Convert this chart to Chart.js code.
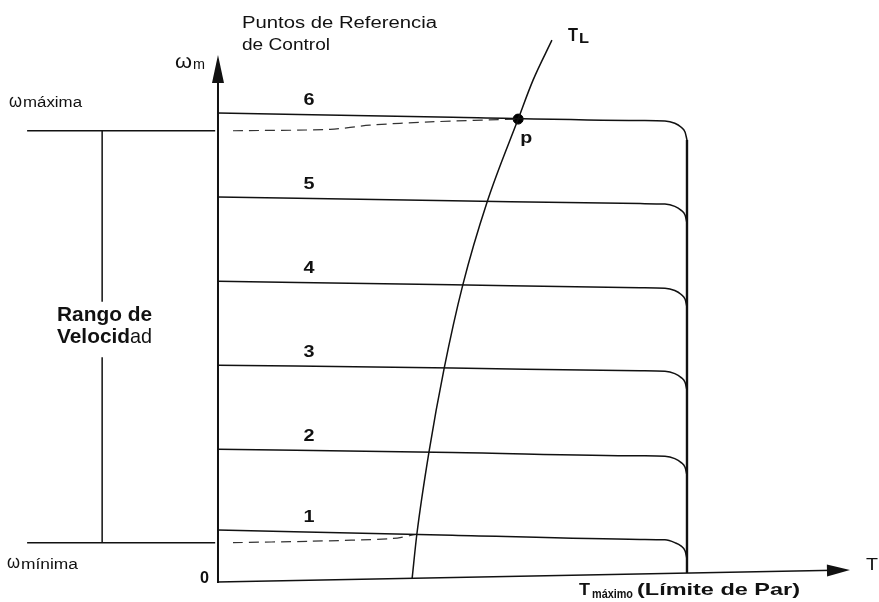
<!DOCTYPE html>
<html lang="es">
<head>
<meta charset="utf-8">
<title>Puntos de Referencia de Control</title>
<script src="https://cdn.jsdelivr.net/npm/chart.js@4.4.1/dist/chart.umd.min.js"></script>
<style>
  html, body { margin: 0; padding: 0; background: #fff; }
  #wrap { width: 879px; height: 602px; }
</style>
</head>
<body>
<div id="wrap"><canvas id="chart" width="879" height="602"></canvas></div>
<script>
// Torque axis (Tmáximo = 100) shared by the six speed-reference curves
const torque = [0, 50, 90, 95.3, 97.4, 98.7, 99.6, 100];

// Speed ωm for control reference points 1..6 (ω of curve 6 at no load = 100)
const speed1 = [10.7, 9.6, 8.7, 8.6, 8.0, 7.3, 6.2, 4.5];
const speed2 = [28.0, 27.3, 26.6, 26.5, 26.0, 25.2, 24.1, 22.4];
const speed3 = [46.0, 45.4, 44.8, 44.7, 44.2, 43.4, 42.3, 40.6];
const speed4 = [64.0, 63.2, 62.6, 62.5, 62.0, 61.2, 60.1, 58.4];
const speed5 = [82.0, 81.2, 80.6, 80.5, 80.0, 79.2, 78.1, 76.4];
const speed6 = [100.0, 99.1, 98.4, 98.3, 97.8, 97.0, 95.9, 94.2];
const curveLabels = ['1', '2', '3', '4', '5', '6'];

// Load torque characteristic T_L
const loadTorque = [41.4, 42.4, 45.0, 48.2, 52.2, 57.4, 64.0, 67.2, 71.2];
const loadSpeed  = [0.4, 9.8, 27.5, 45.2, 63.2, 81.0, 98.7, 107.1, 115.6];

// Operating point p (T_L meets curve 6)
const pointP = { T: 64.0, w: 98.7 };

// Speed range limits
const wMax = 96.2;
const wMin = 8.0;
const torqueMax = 100;
const torqueMaxFoot = 1.5;

// Dashed transitions at the range limits
const upperDashT = [3.2, 23.9, 32.4, 45.2, 64.0];
const upperDashW = [96.2, 96.5, 97.4, 98.1, 98.7];
const lowerDashT = [3.2, 19.6, 37.3, 42.4];
const lowerDashW = [8.0, 8.3, 8.9, 9.8];

// Bracket for "Rango de Velocidad"
const bracketT = { left: -40.7, right: -0.6, stem: -24.7 };
const bracketGap = { top: 59.6, bottom: 47.7 };

// Axis extents (the torque axis is drawn slightly rising)
const axisTopW = 112.4;
const axisEndT = 134.75;
const axisStartW = -0.43;
const axisEndW = 2.14;

const pts = (xs, ys) => xs.map((x, i) => ({ x: x, y: ys[i] }));

const INK = '#111';
const speeds = [speed1, speed2, speed3, speed4, speed5, speed6];

const datasets = [];
speeds.forEach((s, i) => {
  datasets.push({
    label: 'Referencia ' + curveLabels[i],
    data: pts(torque, s),
    showLine: true, borderColor: INK, borderWidth: 1.5,
    pointRadius: 0, cubicInterpolationMode: 'monotone', clip: false
  });
});
datasets.push({
  label: 'Tmáximo',
  data: [{ x: torqueMax, y: speed6[speed6.length - 1] }, { x: torqueMax, y: torqueMaxFoot }],
  showLine: true, borderColor: INK, borderWidth: 2.4, pointRadius: 0
});
datasets.push({
  label: 'TL',
  data: pts(loadTorque, loadSpeed),
  showLine: true, borderColor: INK, borderWidth: 1.5,
  pointRadius: 0, cubicInterpolationMode: 'monotone', clip: false
});
datasets.push({
  label: 'ωmáxima',
  data: pts(upperDashT, upperDashW),
  showLine: true, borderColor: '#333', borderWidth: 1.2, borderDash: [10, 6],
  pointRadius: 0, tension: 0.3
});
datasets.push({
  label: 'ωmínima',
  data: pts(lowerDashT, lowerDashW),
  showLine: true, borderColor: '#333', borderWidth: 1.2, borderDash: [10, 6],
  pointRadius: 0, tension: 0.3
});
datasets.push({
  label: 'p',
  data: [{ x: pointP.T, y: pointP.w }],
  pointRadius: 5, pointBackgroundColor: '#000', pointBorderColor: '#000'
});
// range bracket
[[{ x: bracketT.left, y: wMax }, { x: bracketT.right, y: wMax }],
 [{ x: bracketT.left, y: wMin }, { x: bracketT.right, y: wMin }],
 [{ x: bracketT.stem, y: wMax }, { x: bracketT.stem, y: bracketGap.top }],
 [{ x: bracketT.stem, y: bracketGap.bottom }, { x: bracketT.stem, y: wMin }]
].forEach(seg => datasets.push({
  label: 'rango', data: seg, showLine: true,
  borderColor: INK, borderWidth: 1.5, pointRadius: 0
}));

const SANS = '"Liberation Sans", Arial, Helvetica, sans-serif';

function drawText(ctx, t) {
  ctx.font = t.font;
  const m = ctx.measureText(t.text).width;
  const sx = t.w ? t.w / m : 1;
  ctx.save();
  ctx.translate(t.x, t.y);
  ctx.scale(sx, 1);
  ctx.fillText(t.text, 0, 0);
  ctx.restore();
}

const annotate = {
  id: 'annotate',
  afterDatasetsDraw(chart) {
    const ctx = chart.ctx;
    const sx = chart.scales.x, sy = chart.scales.y;
    const px = v => sx.getPixelForValue(v);
    const py = v => sy.getPixelForValue(v);
    ctx.save();
    ctx.strokeStyle = INK;
    ctx.fillStyle = INK;

    // speed axis with arrow
    const ox = px(0), oy = py(axisStartW);
    const topY = py(axisTopW);
    ctx.lineWidth = 2;
    ctx.beginPath();
    ctx.moveTo(ox, oy + 1);
    ctx.lineTo(ox, topY + 20);
    ctx.stroke();
    ctx.beginPath();
    ctx.moveTo(ox, topY); ctx.lineTo(ox - 6, topY + 28); ctx.lineTo(ox + 6, topY + 28);
    ctx.closePath(); ctx.fill();

    // torque axis with arrow
    const ex = px(axisEndT), ey = py(axisEndW);
    const ang = Math.atan2(ey - oy, ex - ox);
    ctx.lineWidth = 1.6;
    ctx.beginPath();
    ctx.moveTo(ox - 1, oy);
    ctx.lineTo(ex - 15 * Math.cos(ang), ey - 15 * Math.sin(ang));
    ctx.stroke();
    ctx.save();
    ctx.translate(ex, ey);
    ctx.rotate(ang);
    ctx.beginPath();
    ctx.moveTo(0, 0); ctx.lineTo(-23, -6); ctx.lineTo(-23, 6);
    ctx.closePath(); ctx.fill();
    ctx.restore();

    ctx.textBaseline = 'alphabetic';
    ctx.textAlign = 'left';

    // curve numbers
    const labelX = px(19.4);
    speeds.forEach((s, i) => {
      drawText(ctx, { text: curveLabels[i], x: labelX - 5.5, y: py(s[0]) - 8,
        font: 'bold 16px ' + SANS, w: 11 });
    });

    // operating point label
    drawText(ctx, { text: 'p', x: px(pointP.T) + 2, y: py(pointP.w) + 24,
      font: 'bold 17px ' + SANS, w: 12 });

    // load curve label
    const lx = px(loadTorque[loadTorque.length - 1]);
    const ly = py(loadSpeed[loadSpeed.length - 1]);
    drawText(ctx, { text: 'T', x: lx + 16, y: ly + 1, font: 'bold 18px ' + SANS, w: 10 });
    drawText(ctx, { text: 'L', x: lx + 27, y: ly + 3, font: 'bold 14px ' + SANS, w: 10 });

    const texts = [
      { text: 'Puntos de Referencia', x: 242, y: 28, font: '16px ' + SANS, w: 195 },
      { text: 'de Control', x: 242, y: 50, font: '16px ' + SANS, w: 88 },
      { text: 'ω', x: 175, y: 68, font: '20px ' + SANS, w: 17 },
      { text: 'm', x: 193, y: 69, font: '14px ' + SANS, w: 12 },
      { text: 'ω', x: 9, y: 107, font: '19px ' + SANS, w: 13 },
      { text: 'máxima', x: 23, y: 107, font: '14px ' + SANS, w: 59 },
      { text: 'ω', x: 7, y: 568, font: '19px ' + SANS, w: 13 },
      { text: 'mínima', x: 21, y: 569, font: '14px ' + SANS, w: 57 },
      { text: '0', x: 200, y: 583, font: 'bold 16px ' + SANS, w: 9 },
      { text: 'Rango de', x: 57, y: 321, font: 'bold 21px ' + SANS, w: 95 },
      { text: 'Velocid', x: 57, y: 343, font: 'bold 21px ' + SANS, w: 73 },
      { text: 'ad', x: 130, y: 343, font: '21px ' + SANS, w: 22 },
      { text: 'T', x: 579, y: 595, font: 'bold 16px ' + SANS, w: 11 },
      { text: 'máximo', x: 592, y: 598, font: 'bold 12px ' + SANS, w: 41 },
      { text: '(Límite de Par)', x: 637, y: 595, font: 'bold 17px ' + SANS, w: 163 },
      { text: 'T', x: 866, y: 570, font: '17px ' + SANS, w: 12 }
    ];
    texts.forEach(t => drawText(ctx, t));
    ctx.restore();
  }
};

new Chart(document.getElementById('chart'), {
  type: 'scatter',
  data: { datasets: datasets },
  options: {
    responsive: false,
    animation: false,
    layout: { padding: 0, autoPadding: false },
    plugins: { legend: { display: false }, tooltip: { enabled: false } },
    scales: {
      x: { type: 'linear', display: false, min: -46.48, max: 140.94 },
      y: { type: 'linear', display: false, min: -4.71, max: 124.2 }
    }
  },
  plugins: [annotate]
});
</script>
</body>
</html>
